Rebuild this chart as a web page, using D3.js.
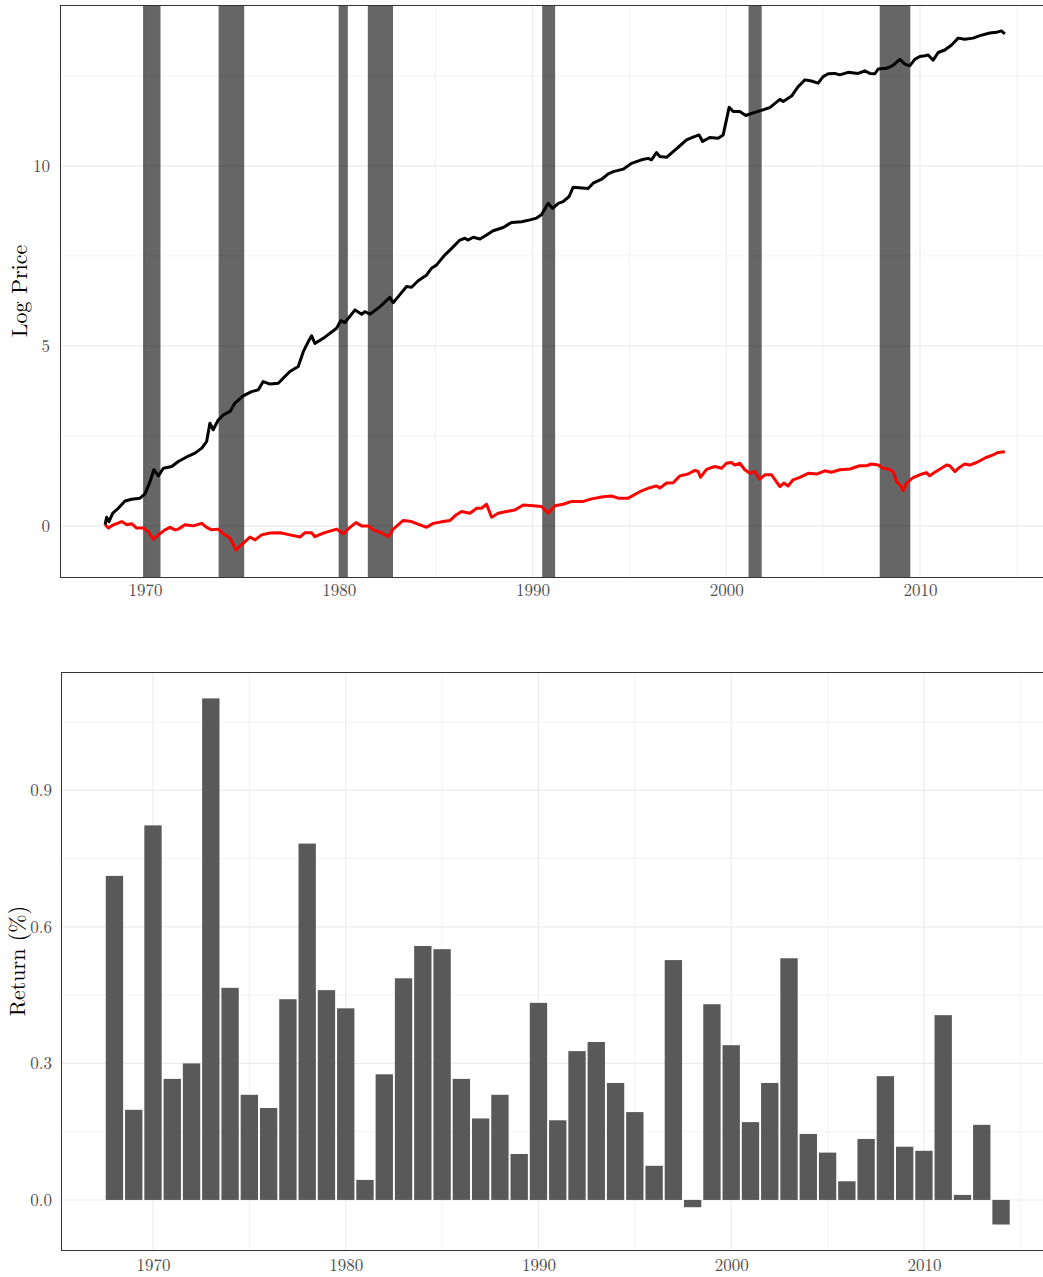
<!DOCTYPE html>
<html>
<head>
<meta charset="utf-8">
<script src="https://cdn.jsdelivr.net/npm/d3@7"></script>
<style>
  html, body { margin: 0; padding: 0; background: #fff; }
  svg { display: block; }
  text { font-family: "Latin Modern Roman", "CMU Serif", "Liberation Serif", serif; }
</style>
</head>
<body>
<script>
// ---------------- DATA ----------------
// Nominal log price (black line)
const priceYears = [1967.94,1968.02,1968.14,1968.33,1968.62,1968.97,1969.31,1969.74,1970.00,1970.26,1970.46,1970.69,1970.95,1971.38,1971.72,1972.24,1972.58,1972.93,1973.18,1973.35,1973.52,1973.78,1974.04,1974.39,1974.64,1975.07,1975.50,1975.85,1976.10,1976.45,1976.88,1977.22,1977.48,1977.91,1978.17,1978.43,1978.60,1978.77,1979.20,1979.60,1979.89,1980.10,1980.32,1980.84,1981.18,1981.35,1981.61,1982.13,1982.64,1982.81,1983.07,1983.50,1983.76,1984.10,1984.54,1984.79,1985.05,1985.48,1985.83,1986.25,1986.51,1986.68,1986.94,1987.29,1987.63,1987.97,1988.49,1988.92,1989.44,1989.87,1990.21,1990.46,1990.81,1991.04,1991.33,1991.58,1991.89,1992.10,1992.87,1993.13,1993.57,1993.91,1994.17,1994.68,1995.11,1995.63,1995.97,1996.14,1996.40,1996.57,1996.92,1997.26,1997.61,1997.95,1998.29,1998.60,1998.78,1999.15,1999.58,1999.84,2000.01,2000.15,2000.36,2000.70,2001.01,2001.31,2001.73,2002.25,2002.77,2002.94,2003.37,2003.71,2004.06,2004.40,2004.74,2005.00,2005.26,2005.60,2005.86,2006.29,2006.81,2007.15,2007.41,2007.67,2007.84,2008.27,2008.61,2008.96,2009.22,2009.47,2009.73,2009.99,2010.25,2010.42,2010.68,2010.94,2011.28,2011.63,2011.97,2012.31,2012.74,2013.09,2013.60,2013.95,2014.20,2014.38];
const priceLog = [0.03,0.24,0.12,0.35,0.49,0.69,0.74,0.77,0.89,1.23,1.56,1.39,1.60,1.65,1.79,1.94,2.02,2.16,2.34,2.85,2.67,2.94,3.08,3.18,3.41,3.61,3.73,3.78,4.01,3.94,3.96,4.15,4.29,4.43,4.84,5.12,5.28,5.07,5.21,5.37,5.49,5.70,5.65,6.00,5.88,5.95,5.88,6.09,6.35,6.20,6.37,6.65,6.63,6.81,6.97,7.16,7.25,7.53,7.71,7.94,7.99,7.94,8.02,7.97,8.08,8.20,8.29,8.43,8.45,8.50,8.55,8.64,8.96,8.82,8.96,9.01,9.15,9.41,9.37,9.52,9.63,9.78,9.84,9.91,10.07,10.17,10.21,10.17,10.37,10.26,10.24,10.40,10.56,10.72,10.80,10.86,10.68,10.79,10.77,10.86,11.28,11.63,11.51,11.51,11.40,11.46,11.53,11.62,11.85,11.79,11.94,12.20,12.39,12.36,12.30,12.48,12.56,12.57,12.53,12.60,12.57,12.64,12.57,12.56,12.69,12.71,12.79,12.96,12.83,12.78,12.96,13.04,13.06,13.08,12.94,13.15,13.22,13.36,13.55,13.52,13.55,13.62,13.69,13.71,13.75,13.67];

// Real log price (red line)
const realYears = [1967.94,1968.11,1968.37,1968.80,1969.06,1969.31,1969.57,1969.91,1970.17,1970.43,1970.69,1971.03,1971.29,1971.55,1971.72,1972.06,1972.49,1972.93,1973.18,1973.44,1973.78,1974.04,1974.39,1974.70,1974.90,1975.16,1975.42,1975.68,1976.02,1976.45,1976.97,1977.48,1978.00,1978.26,1978.60,1978.77,1979.20,1979.63,1979.89,1980.23,1980.58,1980.89,1981.18,1981.52,1981.78,1982.21,1982.55,1982.81,1983.33,1983.76,1984.19,1984.54,1984.88,1985.39,1985.74,1986.00,1986.34,1986.77,1987.12,1987.37,1987.63,1987.89,1988.23,1988.66,1989.09,1989.52,1990.04,1990.47,1990.81,1991.16,1991.58,1992.02,1992.62,1993.05,1993.65,1994.08,1994.42,1994.94,1995.54,1996.06,1996.40,1996.57,1996.92,1997.26,1997.61,1998.03,1998.38,1998.55,1998.67,1998.98,1999.41,1999.76,2000.01,2000.27,2000.44,2000.70,2000.96,2001.22,2001.47,2001.73,2001.99,2002.34,2002.77,2002.97,2003.19,2003.45,2003.80,2004.23,2004.66,2005.09,2005.43,2005.86,2006.38,2006.89,2007.24,2007.50,2007.84,2008.10,2008.36,2008.61,2008.79,2008.96,2009.13,2009.30,2009.64,2009.99,2010.33,2010.50,2010.76,2011.11,2011.37,2011.54,2011.80,2012.05,2012.31,2012.57,2012.92,2013.34,2013.77,2014.03,2014.38];
const realLog = [0.03,-0.06,0.03,0.12,0.03,0.06,-0.06,-0.06,-0.16,-0.37,-0.25,-0.11,-0.04,-0.11,-0.09,0.03,0.00,0.07,-0.04,-0.11,-0.09,-0.22,-0.34,-0.67,-0.56,-0.44,-0.31,-0.39,-0.25,-0.20,-0.19,-0.25,-0.31,-0.19,-0.19,-0.30,-0.20,-0.13,-0.09,-0.22,-0.04,0.09,0.00,0.00,-0.11,-0.19,-0.30,-0.09,0.15,0.12,0.03,-0.04,0.07,0.12,0.15,0.28,0.40,0.35,0.49,0.49,0.60,0.24,0.35,0.40,0.44,0.58,0.56,0.54,0.35,0.56,0.60,0.68,0.68,0.75,0.81,0.83,0.77,0.77,0.95,1.06,1.11,1.05,1.19,1.20,1.39,1.44,1.54,1.51,1.35,1.57,1.65,1.60,1.74,1.76,1.69,1.74,1.56,1.46,1.51,1.30,1.42,1.42,1.09,1.19,1.11,1.28,1.35,1.46,1.44,1.53,1.49,1.56,1.58,1.67,1.67,1.72,1.69,1.60,1.58,1.51,1.23,1.14,0.98,1.19,1.34,1.42,1.48,1.39,1.49,1.60,1.69,1.67,1.51,1.63,1.72,1.69,1.76,1.88,1.97,2.04,2.06];

// Recession periods
const recessionStart = [1969.90,1973.80,1980.00,1981.50,1990.50,2001.15,2007.92];
const recessionEnd   = [1970.80,1975.12,1980.47,1982.80,1991.17,2001.83,2009.50];

// Annual returns (bottom panel)
const returnYears = [1968,1969,1970,1971,1972,1973,1974,1975,1976,1977,1978,1979,1980,1981,1982,1983,1984,1985,1986,1987,1988,1989,1990,1991,1992,1993,1994,1995,1996,1997,1998,1999,2000,2001,2002,2003,2004,2005,2006,2007,2008,2009,2010,2011,2012,2013,2014];
const returnValues = [0.712,0.198,0.823,0.266,0.300,1.102,0.466,0.231,0.202,0.441,0.783,0.461,0.421,0.044,0.276,0.487,0.558,0.551,0.266,0.179,0.231,0.101,0.433,0.175,0.327,0.347,0.257,0.193,0.075,0.527,-0.016,0.430,0.340,0.171,0.257,0.531,0.145,0.104,0.041,0.134,0.272,0.117,0.108,0.406,0.011,0.165,-0.054];

// Tick labels
const xTicks = [1970,1980,1990,2000,2010];
const xMinor = [1965,1975,1985,1995,2005,2015];
const topYTicks = [0,5,10];
const topYMinor = [2.5,7.5,12.5];
const botYTicks = [0.0,0.3,0.6,0.9];
const botYMinor = [0.15,0.45,0.75,1.05];

// ---------------- DRAW ----------------
const W = 1043, H = 1277;
const svg = d3.select("body").append("svg").attr("width", W).attr("height", H);

const gridColor = "#ebebeb";
const tickColor = "#4d4d4d";
const FONT = '"Latin Modern Roman", "CMU Serif", "Liberation Serif", serif';

function panel(opts) {
  const { left, top, right, bottom, xDomain, yDomain } = opts;
  const x = d3.scaleLinear().domain(xDomain).range([left, right]);
  const y = d3.scaleLinear().domain(yDomain).range([bottom, top]);
  const g = svg.append("g");
  const clipId = "clip" + Math.round(top);
  svg.append("clipPath").attr("id", clipId).append("rect")
    .attr("x", left).attr("y", top).attr("width", right - left).attr("height", bottom - top);
  const grid = g.append("g").attr("clip-path", `url(#${clipId})`);
  grid.selectAll(".xmin").data(opts.xMinor).join("line")
    .attr("x1", d => x(d)).attr("x2", d => x(d)).attr("y1", top).attr("y2", bottom)
    .attr("stroke", gridColor).attr("stroke-width", 0.6);
  grid.selectAll(".ymin").data(opts.yMinor).join("line")
    .attr("y1", d => y(d)).attr("y2", d => y(d)).attr("x1", left).attr("x2", right)
    .attr("stroke", gridColor).attr("stroke-width", 0.6);
  grid.selectAll(".xmaj").data(xTicks).join("line")
    .attr("x1", d => x(d)).attr("x2", d => x(d)).attr("y1", top).attr("y2", bottom)
    .attr("stroke", gridColor).attr("stroke-width", 1.1);
  grid.selectAll(".ymaj").data(opts.yTicks).join("line")
    .attr("y1", d => y(d)).attr("y2", d => y(d)).attr("x1", left).attr("x2", right)
    .attr("stroke", gridColor).attr("stroke-width", 1.1);

  const xAxis = d3.axisBottom(x).tickValues(xTicks).tickFormat(d3.format("d")).tickSize(0).tickPadding(opts.xPad);
  const xg = g.append("g").attr("transform", `translate(0,${bottom})`).call(xAxis);
  xg.select(".domain").remove();
  xg.selectAll("text").attr("fill", tickColor).style("font-size", "17px").style("font-family", FONT);

  const yAxis = d3.axisLeft(y).tickValues(opts.yTicks).tickFormat(opts.yFormat).tickSize(0).tickPadding(opts.yPad);
  const yg = g.append("g").attr("transform", `translate(${left},0)`).call(yAxis);
  yg.select(".domain").remove();
  yg.selectAll("text").attr("fill", tickColor).style("font-size", "17px").style("font-family", FONT);

  g.append("text")
    .attr("transform", `translate(${opts.titleX},${(top + bottom) / 2}) rotate(-90)`)
    .attr("text-anchor", "middle")
    .attr("fill", "#000")
    .style("font-size", "22px")
    .text(opts.title);

  const content = g.append("g").attr("clip-path", `url(#${clipId})`);
  return { x, y, content, g, left, top, right, bottom };
}

// Top panel
const P1 = panel({
  left: 60, top: 5, right: 1050, bottom: 577,
  xDomain: [1965.613, 2016.71], yDomain: [-1.42, 14.47],
  xMinor: xMinor, yMinor: topYMinor, yTicks: topYTicks,
  yFormat: d3.format("d"), xPad: 7, yPad: 10, titleX: 27, title: "Log Price"
});

const recessions = recessionStart.map((s, i) => ({ s, e: recessionEnd[i] }));
P1.content.selectAll(".rec").data(recessions).join("rect")
  .attr("x", d => P1.x(d.s)).attr("width", d => P1.x(d.e) - P1.x(d.s))
  .attr("y", P1.top).attr("height", P1.bottom - P1.top)
  .attr("fill", "#000").attr("fill-opacity", 0.6);

const priceData = priceYears.map((t, i) => [t, priceLog[i]]);
const realData = realYears.map((t, i) => [t, realLog[i]]);
const line1 = d3.line().x(d => P1.x(d[0])).y(d => P1.y(d[1]));
P1.content.append("path").datum(realData).attr("d", line1)
  .attr("fill", "none").attr("stroke", "#ff0000").attr("stroke-width", 3).attr("stroke-linejoin", "round");
P1.content.append("path").datum(priceData).attr("d", line1)
  .attr("fill", "none").attr("stroke", "#000").attr("stroke-width", 3).attr("stroke-linejoin", "round");

svg.append("rect").attr("x", P1.left + 0.5).attr("y", P1.top + 0.5)
  .attr("width", P1.right - P1.left).attr("height", P1.bottom - P1.top)
  .attr("fill", "none").attr("stroke", "#333").attr("stroke-width", 1);

// Bottom panel
const P2 = panel({
  left: 61, top: 672, right: 1055, bottom: 1250,
  xDomain: [1965.227, 2016.8], yDomain: [-0.11, 1.16],
  xMinor: xMinor, yMinor: botYMinor, yTicks: botYTicks,
  yFormat: d3.format(".1f"), xPad: 9, yPad: 9, titleX: 25, title: "Return (%)"
});

const barData = returnYears.map((t, i) => ({ t, v: returnValues[i] }));
const bw = 0.9;
P2.content.selectAll(".bar").data(barData).join("rect")
  .attr("x", d => P2.x(d.t - bw / 2))
  .attr("width", d => P2.x(d.t + bw / 2) - P2.x(d.t - bw / 2))
  .attr("y", d => P2.y(Math.max(0, d.v)))
  .attr("height", d => Math.abs(P2.y(d.v) - P2.y(0)))
  .attr("fill", "#595959");

svg.append("rect").attr("x", P2.left + 0.5).attr("y", P2.top + 0.5)
  .attr("width", P2.right - P2.left).attr("height", P2.bottom - P2.top)
  .attr("fill", "none").attr("stroke", "#333").attr("stroke-width", 1);
</script>
</body>
</html>
